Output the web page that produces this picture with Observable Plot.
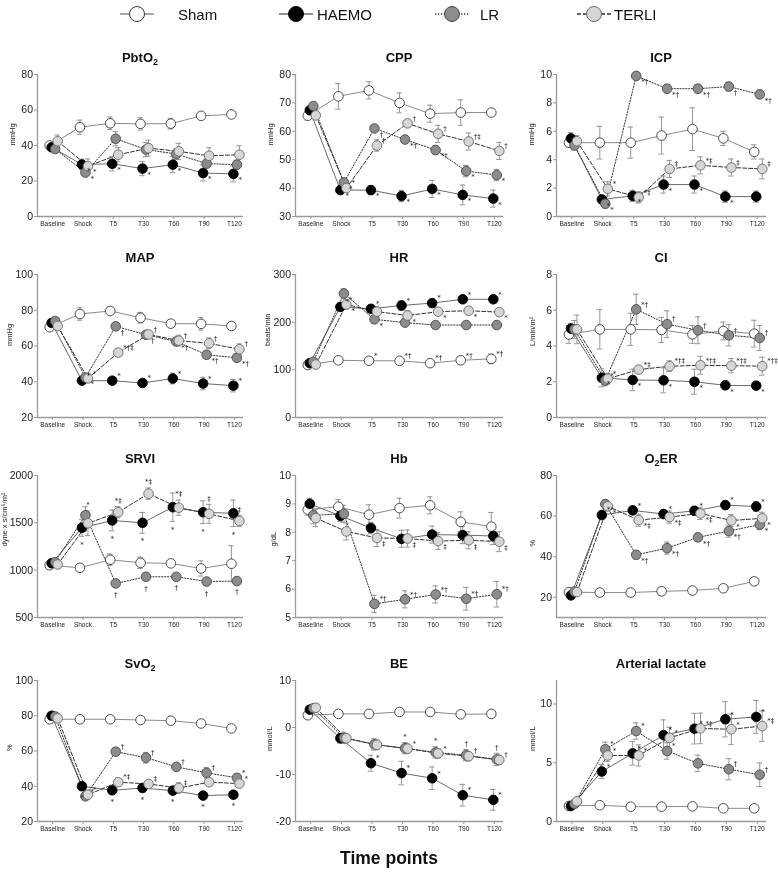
<!DOCTYPE html>
<html>
<head>
<meta charset="utf-8">
<script src="https://cdn.jsdelivr.net/npm/d3@7"></script>
<script src="https://cdn.jsdelivr.net/npm/@observablehq/plot@0.6"></script>
<style>
  body { margin: 0; background: #fff; }
  #chart { position: relative; width: 778px; height: 879px; font-family: "Liberation Sans", Arial, sans-serif; color: #222; background: #fff; filter: grayscale(1); }
  .ttl { position: absolute; text-align: center; font-weight: bold; font-size: 13px; line-height: 16px; color: #111; }
  .ttl sub { font-size: 9px; vertical-align: -3px; line-height: 0; }
  .panel { position: absolute; }
</style>
</head>
<body>
<div id="chart"></div>
<script>
// ---------- data ----------
const timePoints = ["Baseline", "Shock", "T5", "T30", "T60", "T90", "T120"];
const groups = ["Sham", "HAEMO", "LR", "TERLI"];

const pbto2Mean = { Sham: [40, 50.3, 52.5, 52.2, 52.3, 56.7, 57.5], HAEMO: [39, 29.3, 29.7, 27, 29.2, 24.5, 24], LR: [38, 24.8, 43.8, 37.7, 35.2, 29.8, 29.2], TERLI: [42.4, 28.4, 34.8, 38.5, 36.7, 34.2, 34.8] };
const pbto2Err  = { Sham: [2, 4, 3.5, 3.5, 3, 1, 1], HAEMO: [2, 3, 4, 4, 4.5, 4.5, 4.5], LR: [2, 2.5, 4, 4, 3, 2.5, 2.5], TERLI: [3.5, 4, 4, 4.5, 4.5, 4.5, 5] };
const pbto2Sig  = { Sham: ["", "", "", "", "", "", ""], HAEMO: ["", "*", "*", "*", "*", "*", "*"], LR: ["", "*", "", "", "", "", ""], TERLI: ["", "*", "", "", "", "", ""] };

const cppMean = { Sham: [65.5, 72.3, 74.4, 70, 66.2, 66.6, 66.6], HAEMO: [67.4, 39.3, 39.3, 37.2, 39.7, 37.6, 36.3], LR: [68.9, 42, 61, 57.1, 53.4, 46, 44.6], TERLI: [65.6, 40, 55, 62.8, 59.1, 56.4, 53.1] };
const cppErr  = { Sham: [1.5, 4.5, 3, 3.5, 3, 4.5, 1], HAEMO: [1, 1, 1.5, 2, 3, 3.5, 3], LR: [1, 1, 1, 1, 1.5, 2, 2], TERLI: [1, 1, 2, 1, 3, 3, 3] };
const cppSig  = { Sham: ["", "", "", "", "", "", ""], HAEMO: ["", "*", "*", "*", "*", "*", "*"], LR: ["", "*", "†", "*†", "*†", "*", "*"], TERLI: ["", "*", "†", "†", "†", "†‡", "†"] };

const icpMean = { Sham: [5.2, 5.2, 5.2, 5.7, 6.15, 5.5, 4.55], HAEMO: [5.5, 1.2, 1.45, 2.25, 2.25, 1.4, 1.4], LR: [5.0, 0.9, 9.9, 9.0, 9.0, 9.15, 8.6], TERLI: [5.3, 1.95, 1.35, 3.35, 3.6, 3.45, 3.35] };
const icpErr  = { Sham: [0.3, 1.15, 1.1, 1.3, 1.5, 0.5, 0.5], HAEMO: [0.4, 0.3, 0.4, 0.6, 0.6, 0.4, 0.4], LR: [0.3, 0.3, 0.2, 0.3, 0.3, 0.3, 0.3], TERLI: [0.4, 0.5, 0.4, 0.6, 0.6, 0.6, 0.7] };
const icpSig  = { Sham: ["", "", "", "", "", "", ""], HAEMO: ["", "*", "*", "*", "*", "*", ""], LR: ["", "*", "*†", "*†", "*†", "†", "*†"], TERLI: ["", "*", "*‡", "‡", "*‡", "‡", "‡"] };

const mapMean = { Sham: [70.5, 77.9, 79.6, 75.8, 72.5, 72.4, 71.2], HAEMO: [72.9, 40.6, 40.6, 39.3, 41.8, 39, 37.8], LR: [74, 42.4, 71, 66.3, 62.5, 55.1, 53.4], TERLI: [71.2, 41.9, 56.3, 66.5, 63, 61.5, 58.2] };
const mapErr  = { Sham: [1.5, 3.5, 2, 3, 1, 3.5, 1], HAEMO: [1.5, 1.5, 1.5, 1.5, 3, 3.5, 3.5], LR: [2, 1.5, 2, 1.5, 2, 2, 2], TERLI: [1.5, 2, 2, 2, 3, 3, 3] };
const mapSig  = { Sham: ["", "", "", "", "", "", ""], HAEMO: ["", "*", "*", "*", "*", "*", "*"], LR: ["", "*", "†", "†", "*†", "*†", "*†"], TERLI: ["", "*", "*†‡", "†", "†", "†", "†"] };

const hrMean = { Sham: [110, 120, 119, 119, 114, 120, 123], HAEMO: [114, 232, 228, 235, 240, 248, 248], LR: [117, 260, 206, 199, 194, 194, 194], TERLI: [111, 237, 222, 214, 222, 224, 221] };
const hrErr  = { Sham: [3, 4, 4, 4, 4, 8, 10], HAEMO: [4, 8, 8, 10, 8, 6, 6], LR: [4, 10, 8, 8, 6, 6, 6], TERLI: [4, 10, 10, 10, 8, 8, 8] };
const hrSig  = { Sham: ["", "", "*", "*†", "*†", "*†", "*†"], HAEMO: ["", "*", "*", "*", "*", "*", "*"], LR: ["", "*", "*", "", "", "", ""], TERLI: ["", "*", "", "*", "*", "*", "*"] };

const ciMean = { Sham: [4.65, 4.93, 4.93, 4.9, 4.65, 4.84, 4.69], HAEMO: [4.97, 2.22, 2.1, 2.08, 2.0, 1.8, 1.78], LR: [4.93, 2.07, 6.05, 5.22, 4.88, 4.6, 4.45], TERLI: [4.93, 2.17, 2.68, 2.87, 2.92, 2.9, 2.87] };
const ciErr  = { Sham: [0.5, 1.1, 0.9, 0.7, 0.5, 0.5, 0.75], HAEMO: [0.3, 0.5, 0.6, 0.7, 0.7, 0.2, 0.15], LR: [0.5, 0.3, 0.85, 0.75, 0.75, 0.6, 0.7], TERLI: [0.8, 0.3, 0.2, 0.3, 0.5, 0.4, 0.5] };
const ciSig  = { Sham: ["", "", "", "", "", "", ""], HAEMO: ["", "*", "*", "*", "*", "*", "*"], LR: ["", "*", "*†", "†", "†", "†", "†"], TERLI: ["", "*", "*‡", "*†‡", "*†‡", "*†‡", "*†‡"] };

const srviMean = { Sham: [1052, 1025, 1110, 1078, 1072, 1018, 1068], HAEMO: [1073, 1448, 1525, 1500, 1665, 1612, 1600], LR: [1085, 1580, 860, 930, 930, 880, 885], TERLI: [1060, 1495, 1612, 1808, 1660, 1595, 1520] };
const srviErr  = { Sham: [40, 40, 60, 60, 30, 80, 190], HAEMO: [40, 90, 110, 110, 150, 120, 140], LR: [40, 90, 30, 40, 30, 40, 30], TERLI: [40, 130, 60, 60, 80, 100, 60] };
const srviSig  = { Sham: ["", "", "", "", "", "", ""], HAEMO: ["", "*", "*", "*", "*", "*", "*"], LR: ["", "*", "†", "†", "†", "†", "†"], TERLI: ["", "*", "*‡", "*‡", "*‡", "‡", "‡"] };

const hbMean = { Sham: [8.8, 8.9, 8.62, 8.85, 8.95, 8.37, 8.2], HAEMO: [9.0, 8.58, 8.15, 7.77, 7.92, 7.9, 7.87], LR: [8.6, 8.65, 5.48, 5.64, 5.81, 5.66, 5.82], TERLI: [8.5, 8.03, 7.8, 7.78, 7.69, 7.72, 7.67] };
const hbErr  = { Sham: [0.2, 0.25, 0.35, 0.35, 0.3, 0.35, 0.5], HAEMO: [0.2, 0.2, 0.2, 0.3, 0.3, 0.3, 0.3], LR: [0.3, 0.3, 0.3, 0.3, 0.3, 0.4, 0.45], TERLI: [0.3, 0.3, 0.3, 0.3, 0.3, 0.3, 0.35] };
const hbSig  = { Sham: ["", "", "", "", "", "", ""], HAEMO: ["", "", "", "", "", "", ""], LR: ["", "", "*†", "*†", "*†", "*†", "*†"], TERLI: ["", "", "‡", "‡", "‡", "‡", "‡"] };

const o2erMean = { Sham: [22.5, 22.3, 22.3, 22.9, 23.3, 24.4, 27.8], HAEMO: [20.9, 60.5, 62.8, 61, 62.6, 65.4, 64.7], LR: [22.8, 65.9, 40.9, 44.2, 49.5, 52.6, 55.8], TERLI: [22.5, 64.8, 58, 59.5, 61.3, 57.8, 58.9] };
const o2erErr  = { Sham: [1, 2, 2, 2, 1, 1, 1], HAEMO: [1, 2, 2, 2, 2, 2, 2.5], LR: [1, 2, 2, 3, 2, 3, 2.5], TERLI: [1, 2, 3, 3, 3, 3, 3] };
const o2erSig  = { Sham: ["", "", "", "", "", "", ""], HAEMO: ["", "*", "*", "*", "*", "*", "*"], LR: ["", "*", "*†", "*†", "*†", "*†", "*"], TERLI: ["", "*", "*‡", "*‡", "*‡", "*", "*"] };

const svo2Mean = { Sham: [78, 78, 78, 77.6, 77.2, 75.6, 72.8], HAEMO: [80, 40, 37.7, 39, 37.5, 34.7, 35.2], LR: [79.6, 34.3, 59.6, 56.2, 51, 47.6, 44.8], TERLI: [78.5, 35.2, 42.3, 41.3, 39, 42.3, 41.5] };
const svo2Err  = { Sham: [1, 1, 1, 1, 1, 1, 1], HAEMO: [1, 2, 2, 2, 2, 2, 2], LR: [1, 2, 2, 3, 2, 3, 2], TERLI: [1, 2, 2, 2, 3, 2, 2] };
const svo2Sig  = { Sham: ["", "", "", "", "", "", ""], HAEMO: ["", "*", "*", "*", "*", "*", "*"], LR: ["", "*", "†", "†", "†", "†", "*"], TERLI: ["", "*", "*‡", "‡", "‡", "", "*"] };

const beMean = { Sham: [2.6, 2.9, 2.9, 3.3, 3.3, 2.8, 2.9], HAEMO: [3.8, -2.3, -7.6, -9.7, -10.8, -14.4, -15.4], LR: [4.1, -2.2, -3.6, -4.4, -5.3, -5.9, -6.8], TERLI: [4.2, -2.3, -3.7, -4.5, -5.5, -6.1, -6.9] };
const beErr  = { Sham: [0.5, 0.5, 0.5, 0.5, 0.5, 0.5, 0.5], HAEMO: [0.5, 1, 1.7, 2.5, 2.4, 2.3, 2.2], LR: [0.5, 1.2, 1.2, 1.2, 1.2, 1.2, 1.3], TERLI: [0.5, 1, 1, 1, 1, 1, 1] };
const beSig  = { Sham: ["", "", "", "", "", "", ""], HAEMO: ["", "", "*", "*", "*", "*", "*"], LR: ["", "", "", "*", "*", "†", "†"], TERLI: ["", "", "", "*", "*", "†", "†"] };

const lacMean = { Sham: [1.32, 1.38, 1.26, 1.26, 1.29, 1.12, 1.12], HAEMO: [1.32, 4.25, 5.8, 7.35, 7.9, 8.7, 8.9], LR: [1.5, 6.15, 7.7, 6.0, 4.95, 4.45, 3.98], TERLI: [1.72, 5.62, 5.62, 7.12, 7.92, 7.85, 8.12] };
const lacErr  = { Sham: [0.1, 0.1, 0.1, 0.1, 0.1, 0.1, 0.1], HAEMO: [0.2, 0.6, 1, 1.3, 1.3, 1.5, 1.4], LR: [0.2, 0.6, 0.7, 0.7, 0.7, 0.9, 1], TERLI: [0.2, 0.5, 0.9, 0.9, 1.3, 1.3, 1.3] };
const lacSig  = { Sham: ["", "", "", "", "", "", ""], HAEMO: ["", "*", "*", "*", "*", "*", "*"], LR: ["", "*", "*", "*", "", "†", "†"], TERLI: ["", "*", "*", "*", "*‡", "*", "*‡"] };

// tick values
const pbto2Ticks = [0, 20, 40, 60, 80];
const cppTicks = [30, 40, 50, 60, 70, 80];
const icpTicks = [0, 2, 4, 6, 8, 10];
const mapTicks = [20, 40, 60, 80, 100];
const hrTicks = [0, 100, 200, 300];
const ciTicks = [0, 2, 4, 6, 8];
const srviTicks = [500, 1000, 1500, 2000];
const hbTicks = [5, 6, 7, 8, 9, 10];
const o2erTicks = [20, 40, 60, 80];
const svo2Ticks = [20, 40, 60, 80, 100];
const beTicks = [-20, -10, 0, 10];
const lacTicks = [0, 5, 10];

// ---------- styles / layout ----------
const axisColor = "#9a9a9a";
const sty = {
  Sham:  { fill: "#ffffff", stroke: "#3a3a3a", line: "#8a8a8a", dash: null },
  HAEMO: { fill: "#000000", stroke: "#000000", line: "#6a6a6a", dash: null },
  LR:    { fill: "#8c8c8c", stroke: "#4a4a4a", line: "#333333", dash: "1.3,1.6" },
  TERLI: { fill: "#d6d6d6", stroke: "#6a6a6a", line: "#333333", dash: "4,2" }
};
const dodge = { Sham: -3, HAEMO: -1, LR: 2.5, TERLI: 5 };
const xDomain = [-0.5, 6.3];
const colLeft = [0, 258, 519], colW = [258, 258, 259], colMR = [15, 13, 12];
const rowTop = [74, 274, 475, 680], rowBottom = [216, 417, 617, 821];
const ML = 37, MT = 8, MB = 24;
const symFont = "DejaVu Sans, Liberation Sans, sans-serif";

const panels = [
  { title: "PbtO<sub>2</sub>", ylabel: "mmHg", domain: [0, 80], ticks: pbto2Ticks, mean: pbto2Mean, err: pbto2Err, sig: pbto2Sig, lab: -25, place: { HAEMO: "lr", LR: "lr", TERLI: "lr", Sham: "lr" } },
  { title: "CPP", ylabel: "mmHg", domain: [30, 80], ticks: cppTicks, mean: cppMean, err: cppErr, sig: cppSig, lab: -25, place: { HAEMO: "lr", LR: "lr", TERLI: "ur", Sham: "lr" } },
  { title: "ICP", ylabel: "mmHg", domain: [0, 10], ticks: icpTicks, mean: icpMean, err: icpErr, sig: icpSig, lab: -25, place: { HAEMO: "lr", LR: "lr", TERLI: "ur", Sham: "lr" } },
  { title: "MAP", ylabel: "mmHg", domain: [20, 100], ticks: mapTicks, mean: mapMean, err: mapErr, sig: mapSig, lab: -28, place: { HAEMO: "ur", LR: "lr", TERLI: "ur", Sham: "lr" } },
  { title: "HR", ylabel: "beats/min", domain: [0, 300], ticks: hrTicks, mean: hrMean, err: hrErr, sig: hrSig, lab: -28, place: { HAEMO: "ur", LR: "lr", TERLI: "lr", Sham: "ur" } },
  { title: "CI", ylabel: "L/min/m²", domain: [0, 8], ticks: ciTicks, mean: ciMean, err: ciErr, sig: ciSig, lab: -24, place: { HAEMO: "lr", LR: "ur", TERLI: "ur", Sham: "lr" } },
  { title: "SRVI", ylabel: "dyne x s/cm⁵/m²", domain: [500, 2000], ticks: srviTicks, mean: srviMean, err: srviErr, sig: srviSig, lab: -33, place: { HAEMO: "b", LR: "b", TERLI: "a", Sham: "lr" } },
  { title: "Hb", ylabel: "g/dL", domain: [5, 10], ticks: hbTicks, mean: hbMean, err: hbErr, sig: hbSig, lab: -22, place: { HAEMO: "lr", LR: "ur", TERLI: "lr", Sham: "lr" } },
  { title: "O<sub>2</sub>ER", ylabel: "%", domain: [10, 80], ticks: o2erTicks, mean: o2erMean, err: o2erErr, sig: o2erSig, lab: -24, place: { HAEMO: "ur", LR: "lr", TERLI: "lr", Sham: "lr" } },
  { title: "SvO<sub>2</sub>", ylabel: "%", domain: [20, 100], ticks: svo2Ticks, mean: svo2Mean, err: svo2Err, sig: svo2Sig, lab: -28, place: { HAEMO: "b", LR: "ur", TERLI: "ur", Sham: "lr" } },
  { title: "BE", ylabel: "mmol/L", domain: [-20, 10], ticks: beTicks, mean: beMean, err: beErr, sig: beSig, lab: -26, place: { HAEMO: "ur", LR: "a", TERLI: "ur", Sham: "lr" } },
  { title: "Arterial lactate", ylabel: "mmol/L", domain: [0, 12], ticks: lacTicks, mean: lacMean, err: lacErr, sig: lacSig, lab: -24, place: { HAEMO: "ur", LR: "ur", TERLI: "ur", Sham: "ur" } }
];

const chart = document.getElementById("chart");

// ---------- legend ----------
const legendItems = [
  { g: "Sham", cx: 137, tx: 178 },
  { g: "HAEMO", cx: 296, tx: 317 },
  { g: "LR", cx: 452, tx: 480 },
  { g: "TERLI", cx: 594, tx: 614 }
];
const leg = d3.select(chart).append("svg")
  .attr("width", 778).attr("height", 30)
  .style("position", "absolute").style("left", "0px").style("top", "0px");
legendItems.forEach(it => {
  const s = sty[it.g];
  leg.append("line").attr("x1", it.cx - 17).attr("x2", it.cx + 17).attr("y1", 14).attr("y2", 14)
    .attr("stroke", s.line).attr("stroke-width", 1.3).attr("stroke-dasharray", s.dash);
  leg.append("circle").attr("cx", it.cx).attr("cy", 14).attr("r", 7.5)
    .attr("fill", s.fill).attr("stroke", s.stroke).attr("stroke-width", 1);
  leg.append("text").attr("x", it.tx).attr("y", 19.5).text(it.g)
    .attr("font-size", 15).attr("fill", "#111").attr("font-family", "Liberation Sans, Arial, sans-serif");
});

// ---------- panels ----------
function placeOpts(p) {
  if (p === "ur") return { dx: 5, dy: -5, textAnchor: "start", yf: d => d.v };
  if (p === "lr") return { dx: 5, dy: 6, textAnchor: "start", yf: d => d.v };
  if (p === "b") return { dx: 0, dy: 8, textAnchor: "middle", yf: d => d.v - d.e };
  return { dx: 0, dy: -6, textAnchor: "middle", yf: d => d.v + d.e };
}

panels.forEach((p, k) => {
  const r = Math.floor(k / 3), c = k % 3;
  const top = rowTop[r], bottom = rowBottom[r];
  const rows = [];
  groups.forEach(g => p.mean[g].forEach((v, i) => rows.push({ g, i, v, e: p.err[g][i], s: p.sig[g][i] })));

  const marks = [
    Plot.ruleY([p.domain[0]], { stroke: axisColor, strokeWidth: 1.3 }),
    Plot.ruleX([xDomain[0]], { stroke: axisColor, strokeWidth: 1.3 }),
    Plot.axisY({ ticks: p.ticks, tickFormat: d => String(d), tickSize: 3, tickPadding: 1.5, fontSize: 10.5, stroke: axisColor, label: null }),
    Plot.axisX({ ticks: d3.range(timePoints.length), tickFormat: i => timePoints[i], tickSize: 3, tickPadding: 2, fontSize: 6.5, stroke: axisColor, label: null }),
    Plot.text([p.ylabel], { frameAnchor: "left", rotate: -90, dx: p.lab, fontSize: 7.5, fill: "#222" })
  ];
  groups.forEach(g => {
    const d = rows.filter(x => x.g === g);
    marks.push(Plot.line(d, { x: "i", y: "v", dx: dodge[g], stroke: sty[g].line, strokeWidth: 1, strokeDasharray: sty[g].dash }));
  });
  groups.forEach(g => {
    const d = rows.filter(x => x.g === g && x.e > 0);
    marks.push(Plot.ruleX(d, { x: "i", y1: x => x.v - x.e, y2: x => x.v + x.e, dx: dodge[g], stroke: "#8a8a8a", strokeWidth: 0.9 }));
    marks.push(Plot.ruleY(d, { y: x => x.v + x.e, x1: x => x.i - 0.09, x2: x => x.i + 0.09, dx: dodge[g], stroke: "#8a8a8a", strokeWidth: 0.9 }));
    marks.push(Plot.ruleY(d, { y: x => x.v - x.e, x1: x => x.i - 0.09, x2: x => x.i + 0.09, dx: dodge[g], stroke: "#8a8a8a", strokeWidth: 0.9 }));
  });
  groups.forEach(g => {
    const d = rows.filter(x => x.g === g);
    marks.push(Plot.dot(d, { x: "i", y: "v", dx: dodge[g], r: 4.8, fill: sty[g].fill, stroke: sty[g].stroke, strokeWidth: 0.9 }));
  });
  groups.forEach(g => {
    const d = rows.filter(x => x.g === g && x.s);
    const o = placeOpts(p.place[g]);
    marks.push(Plot.text(d, { x: "i", y: o.yf, text: "s", dx: dodge[g] + o.dx, dy: o.dy, textAnchor: o.textAnchor, fontSize: 7, fontFamily: symFont, fill: "#222" }));
  });

  const svg = Plot.plot({
    width: colW[c],
    height: bottom - top + MT + MB,
    marginLeft: ML, marginRight: colMR[c], marginTop: MT, marginBottom: MB,
    x: { domain: xDomain, axis: null },
    y: { domain: p.domain, axis: null },
    style: { background: "transparent", fontFamily: "Liberation Sans, Arial, sans-serif", color: "#222", overflow: "visible" },
    marks
  });
  const wrap = document.createElement("div");
  wrap.className = "panel";
  wrap.style.left = colLeft[c] + "px";
  wrap.style.top = (top - MT) + "px";
  wrap.appendChild(svg);
  chart.appendChild(wrap);

  const t = document.createElement("div");
  t.className = "ttl";
  t.style.left = (colLeft[c] + ML) + "px";
  t.style.width = (colW[c] - ML - colMR[c]) + "px";
  t.style.top = (top - 24) + "px";
  t.innerHTML = p.title;
  chart.appendChild(t);
});

// ---------- x title ----------
const xt = document.createElement("div");
xt.textContent = "Time points";
xt.style.cssText = "position:absolute;left:0;width:778px;top:848px;text-align:center;font-weight:bold;font-size:17.5px;line-height:20px;color:#111;";
chart.appendChild(xt);
</script>
</body>
</html>
